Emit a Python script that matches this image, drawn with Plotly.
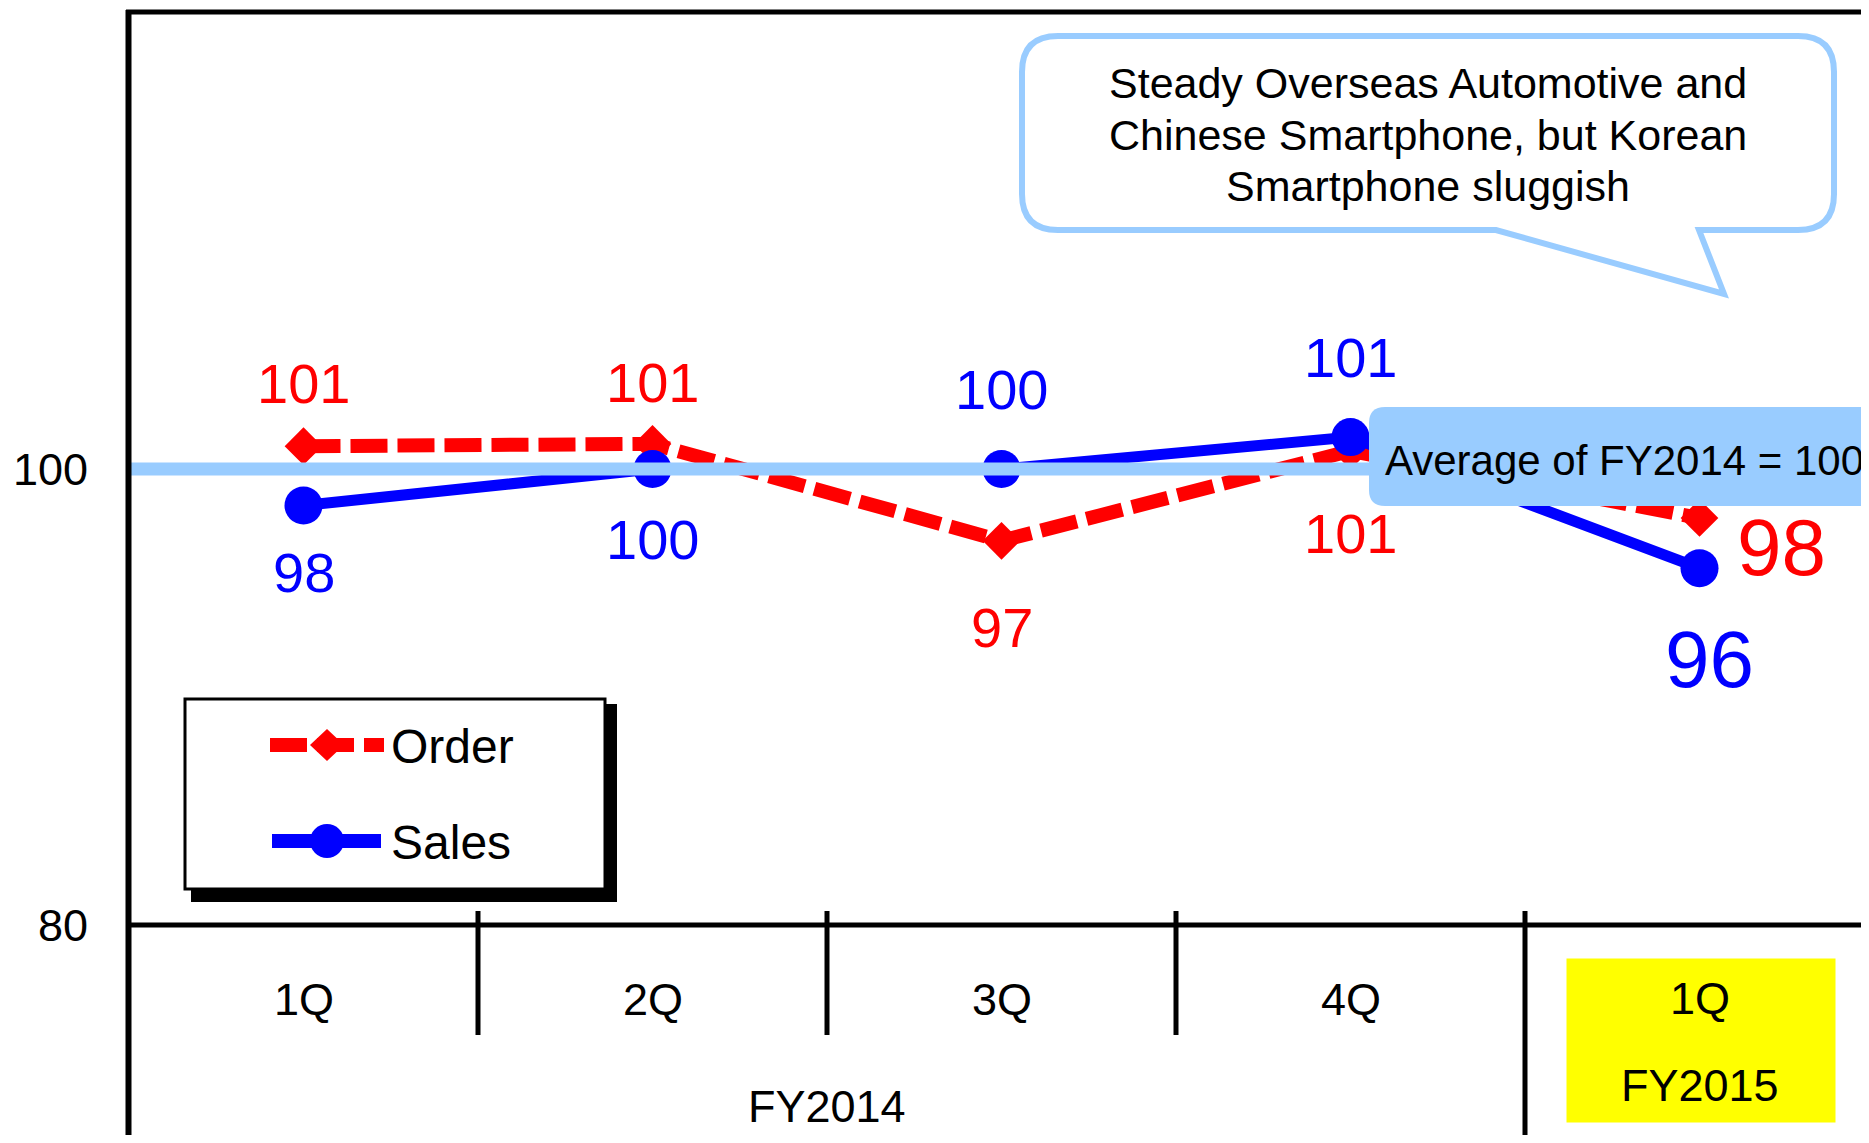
import plotly.graph_objects as go

# ---------------- data ----------------
fiscal_years = ["FY2014", "FY2014", "FY2014", "FY2014", "FY2015"]
quarters = ["1Q", "2Q", "3Q", "4Q", "1Q"]
order_values = [101.0, 101.1, 96.85, 100.8, 97.85]
sales_values = [98.4, 100.0, 100.0, 101.4, 95.65]
order_labels = ["101", "101", "97", "101", "98"]
sales_labels = ["98", "100", "100", "101", "96"]
series_names = ["Order", "Sales"]
baseline_value = 100
y_tick_values = [80, 100]
baseline_text = "Average of FY2014 = 100"
callout_lines = ["Steady Overseas Automotive and",
                 "Chinese Smartphone, but Korean",
                 "Smartphone sluggish"]

# ---------------- geometry / style ----------------
OFF = 8                      # page body margin of the browser
SW, SH = 1869, 1143          # screen size
W, H = SW - OFF, SH - 2 * OFF    # figure size (avoid page scrollbars)
AXIS_Y = 925                 # screen y of the x axis
L, R, T = 129 - OFF, 0, 13 - OFF
B = H - (AXIS_Y - OFF)
PW = W - L - R
PH = H - T - B
FONT = "Arial, Liberation Sans, sans-serif"
RED, BLUE, LIGHT, YELLOW = "#FF0000", "#0000FF", "#99CCFF", "#FFFF00"

x_keys = [f"{fy} {q}" for fy, q in zip(fiscal_years, quarters)]


def fx(px):
    """screen pixel x -> paper fraction"""
    return (px - OFF - L) / PW


def fy(py):
    """screen pixel y -> paper fraction"""
    return (H - B - (py - OFF)) / PH


def path(cmds):
    out = []
    for c, pts in cmds:
        s = c
        if pts:
            s += " " + " ".join(f"{fx(x):.5f},{fy(y):.5f}" for x, y in pts)
        out.append(s)
    return " ".join(out)


def rounded(x0, y0, x1, y1, r, tail=None):
    cmds = [("M", [(x0 + r, y0)]), ("L", [(x1 - r, y0)]),
            ("Q", [(x1, y0), (x1, y0 + r)]), ("L", [(x1, y1 - r)]),
            ("Q", [(x1, y1), (x1 - r, y1)])]
    if tail:
        for p in tail:
            cmds.append(("L", [p]))
    cmds += [("L", [(x0 + r, y1)]), ("Q", [(x0, y1), (x0, y1 - r)]),
             ("L", [(x0, y0 + r)]), ("Q", [(x0, y0), (x0 + r, y0)]), ("Z", [])]
    return path(cmds)


def text(x, y, t, size, color="black", xref="paper", yref="paper", xanchor="center", **kw):
    d = dict(x=x, y=y, xref=xref, yref=yref, text=t, showarrow=False,
             xanchor=xanchor, yanchor="middle",
             font=dict(family=FONT, size=size, color=color))
    d.update(kw)
    return d


fig = go.Figure()

fig.add_trace(go.Scatter(
    x=x_keys, y=order_values, name=series_names[0], mode="lines+markers",
    line=dict(color=RED, width=14, dash="37px,10px"),
    marker=dict(symbol="diamond", size=29, color=RED, line=dict(width=0)),
    hoverinfo="skip", showlegend=False))
fig.add_trace(go.Scatter(
    x=x_keys, y=sales_values, name=series_names[1], mode="lines+markers",
    line=dict(color=BLUE, width=11),
    marker=dict(symbol="circle", size=38, color=BLUE, line=dict(width=0)),
    hoverinfo="skip", showlegend=False))

shapes = []
# baseline band at 100 (above traces)
shapes.append(dict(type="line", xref="paper", yref="y", x0=0, x1=1,
                   y0=baseline_value, y1=baseline_value,
                   line=dict(color=LIGHT, width=13), layer="above"))
# baseline label box
shapes.append(dict(type="path", xref="paper", yref="paper",
                   path=rounded(1369, 407, 1910, 506, 16),
                   fillcolor=LIGHT, line=dict(width=0), layer="above"))
# axis frame
shapes.append(dict(type="line", xref="paper", yref="paper",
                   x0=fx(128.5), x1=fx(128.5), y0=fy(10), y1=fy(SH + 5),
                   line=dict(color="black", width=6)))
shapes.append(dict(type="line", xref="paper", yref="paper",
                   x0=fx(126), x1=1.01, y0=fy(12), y1=fy(12),
                   line=dict(color="black", width=5)))
shapes.append(dict(type="line", xref="paper", yref="paper",
                   x0=fx(126), x1=1.01, y0=0, y1=0,
                   line=dict(color="black", width=5)))
# category separators
for i in range(len(x_keys) - 1):
    last = fiscal_years[i] != fiscal_years[i + 1]
    shapes.append(dict(type="line", xref="x", yref="paper",
                       x0=i + 0.5, x1=i + 0.5,
                       y0=fy(911), y1=fy(SH + 5 if last else 1035),
                       line=dict(color="black", width=5)))
# speech bubble
shapes.append(dict(type="path", xref="paper", yref="paper",
                   path=rounded(1022, 36, 1834, 230, 36,
                                tail=[(1699, 230), (1724, 294), (1496, 230)]),
                   fillcolor="white", line=dict(color=LIGHT, width=6)))
# legend box with shadow
shapes.append(dict(type="rect", xref="paper", yref="paper",
                   x0=fx(191), x1=fx(617), y0=fy(704), y1=fy(902),
                   fillcolor="black", line=dict(width=0)))
shapes.append(dict(type="rect", xref="paper", yref="paper",
                   x0=fx(185), x1=fx(605), y0=fy(699), y1=fy(889),
                   fillcolor="white", line=dict(color="black", width=3)))
shapes.append(dict(type="line", xref="paper", yref="paper",
                   x0=fx(270), x1=fx(384), y0=fy(745), y1=fy(745),
                   line=dict(color=RED, width=14, dash="37px,10px")))
shapes.append(dict(type="path", xref="paper", yref="paper",
                   path=path([("M", [(310, 745)]), ("L", [(327, 729)]),
                              ("L", [(344, 745)]), ("L", [(327, 761)]), ("Z", [])]),
                   fillcolor=RED, line=dict(width=0)))
shapes.append(dict(type="line", xref="paper", yref="paper",
                   x0=fx(272), x1=fx(381), y0=fy(841), y1=fy(841),
                   line=dict(color=BLUE, width=14)))
shapes.append(dict(type="circle", xref="paper", yref="paper",
                   x0=fx(310), x1=fx(344), y0=fy(824), y1=fy(858),
                   fillcolor=BLUE, line=dict(width=0)))

ann = []
# data labels
order_shift = [(0, 63), (0, 61), (0, -87), (0, -83), (82, -29)]
sales_shift = [(0, -67), (0, -70), (0, 80), (0, 80), (10, -91)]
label_size = [56, 56, 56, 56, 80]
for vals, labels, shifts, col in [(order_values, order_labels, order_shift, RED),
                                  (sales_values, sales_labels, sales_shift, BLUE)]:
    for i, (v, t) in enumerate(zip(vals, labels)):
        ann.append(text(x_keys[i], v, t, label_size[i], col, xref="x", yref="y",
                        xshift=shifts[i][0], yshift=shifts[i][1]))

last_i = len(x_keys) - 1
# category labels
for i, q in enumerate(quarters):
    if i != last_i:
        ann.append(text(i, fy(999), q, 45, xref="x"))
groups = []
for i, g in enumerate(fiscal_years):
    if not groups or groups[-1][0] != g:
        groups.append([g, i, i])
    else:
        groups[-1][2] = i
for g, a, b in groups:
    if a <= last_i <= b:
        continue
    ann.append(text((a + b) / 2, fy(1106), g, 45, xref="x"))
# highlighted latest quarter
ann.append(text(last_i, fy(1040.5), " ", 10, YELLOW, xref="x", xshift=1,
                width=268, height=163, borderpad=0, bgcolor=YELLOW))
ann.append(text(last_i, fy(998), quarters[last_i], 45, xref="x"))
ann.append(text(last_i, fy(1085), fiscal_years[last_i], 45, xref="x"))
# callout text
for k, line in enumerate(callout_lines):
    ann.append(text(fx(1428), fy(83 + 51.5 * k), line, 43))
# baseline label text
ann.append(text(fx(1383), fy(460), baseline_text, 42, xanchor="left"))
# legend text
for name, py in zip(series_names, [746, 842]):
    ann.append(text(fx(389), fy(py), name, 48, xanchor="left"))

fig.update_layout(
    width=W, height=H,
    margin=dict(l=L, r=R, t=T, b=B, autoexpand=False),
    paper_bgcolor="white", plot_bgcolor="white",
    showlegend=False,
    shapes=shapes, annotations=ann,
    xaxis=dict(type="category", categoryorder="array", categoryarray=x_keys,
               range=[-0.5, -0.5 + PW / 349.0], showticklabels=False,
               showgrid=False, zeroline=False, showline=False, ticks=""),
    yaxis=dict(range=[80, 120], tickvals=y_tick_values,
               ticktext=[str(v) for v in y_tick_values],
               tickfont=dict(family=FONT, size=45, color="black"),
               showgrid=False, zeroline=False, showline=False, ticks="",
               ticklabelstandoff=40, automargin=False),
)

fig.write_html("out.html", config={"displayModeBar": False})
